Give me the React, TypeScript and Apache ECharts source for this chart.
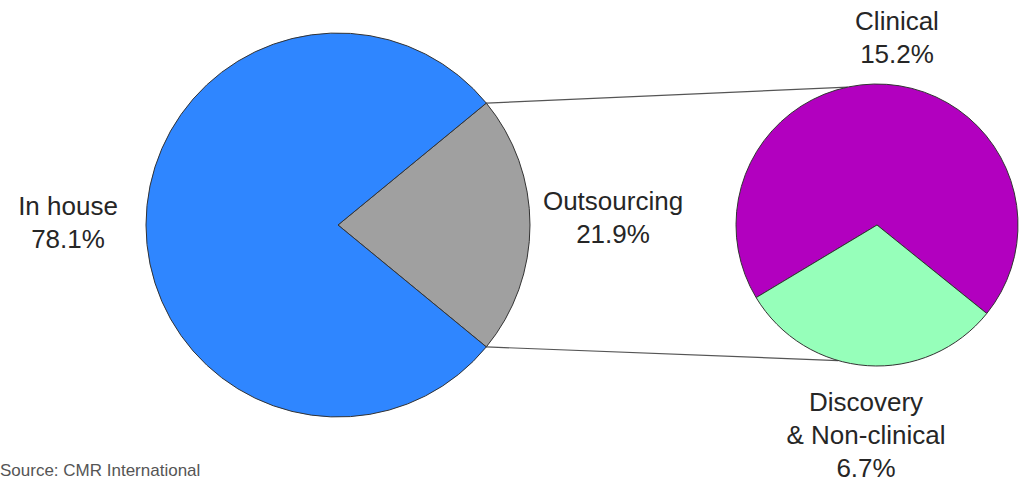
import React, { useEffect, useRef } from "react";
import * as echarts from "echarts";

// ---- data ----
const mainCategories = ["Outsourcing", "In house"];
const mainValues = [21.9, 78.1];
const subCategories = ["Clinical", "Discovery\n& Non-clinical"];
const subValues = [15.2, 6.7];
const sourceNote = "Source: CMR International";

// ---- layout / style ----
const W = 1034;
const H = 493;
const BIG = { cx: 338, cy: 225, r: 192 };
const SMALL = { cx: 877, cy: 225, r: 141 };
const SMALL_START = -149;
const CONNECT_SMALL_TOP = 102; // degrees on small pie
const CONNECT_SMALL_BOTTOM = -106;
const mainColors = ["#A0A0A0", "#2F86FF"];
const subColors = ["#B200BF", "#96FFBA"];
const mainLabelPos = [
  { x: 613, y: 217 },
  { x: 68, y: 222 },
];
const subLabelPos = [
  { x: 897, y: 37 },
  { x: 866, y: 435 },
];
const FONT = "'Liberation Sans', Arial, Helvetica, sans-serif";

function pt(c: { cx: number; cy: number; r: number }, deg: number) {
  const a = (deg * Math.PI) / 180;
  return [c.cx + c.r * Math.cos(a), c.cy - c.r * Math.sin(a)];
}

export default function App() {
  const ref = useRef<HTMLDivElement>(null);
  useEffect(() => {
    document.body.style.margin = "0";
    if (!ref.current) return;
    const chart = echarts.init(ref.current, null, { renderer: "svg" });
    const total = mainValues.reduce((a, b) => a + b, 0);
    const outShare = mainValues[0] / total;
    const bigStart = (outShare * 360) / 2;
    const bigTop = pt(BIG, bigStart);
    const bigBottom = pt(BIG, -bigStart);
    const smallTop = pt(SMALL, CONNECT_SMALL_TOP);
    const smallBottom = pt(SMALL, CONNECT_SMALL_BOTTOM);

    const labelStyle = {
      show: true,
      position: "outside" as const,
      formatter: "{b}\n{c}%",
      fontFamily: FONT,
      fontSize: 26,
      lineHeight: 33,
      color: "#262626",
      align: "center" as const,
      overflow: "none" as const,
      width: 300,
    };

    chart.setOption({
      animation: false,
      backgroundColor: "#fff",
      graphic: [
        {
          type: "line",
          z: -1,
          shape: { x1: bigTop[0], y1: bigTop[1], x2: smallTop[0], y2: smallTop[1] },
          style: { stroke: "#555", lineWidth: 1.2 },
        },
        {
          type: "line",
          z: -1,
          shape: { x1: bigBottom[0], y1: bigBottom[1], x2: smallBottom[0], y2: smallBottom[1] },
          style: { stroke: "#555", lineWidth: 1.2 },
        },
        {
          type: "text",
          left: 0,
          top: 462,
          style: { text: sourceNote, fontFamily: FONT, fontSize: 17, fill: "#555" },
        },
      ],
      series: [
        {
          type: "pie",
          center: [BIG.cx, BIG.cy],
          radius: BIG.r,
          startAngle: bigStart,
          clockwise: true,
          silent: true,
          emphasis: { disabled: true },
          label: labelStyle,
          labelLine: { show: false },
          labelLayout: (p: any) => ({
            x: mainLabelPos[p.dataIndex].x,
            y: mainLabelPos[p.dataIndex].y,
            align: "center",
            verticalAlign: "middle",
          }),
          itemStyle: { borderColor: "#333", borderWidth: 1 },
          data: mainCategories.map((n, i) => ({
            name: n,
            value: mainValues[i],
            itemStyle: { color: mainColors[i] },
          })),
        },
        {
          type: "pie",
          center: [SMALL.cx, SMALL.cy],
          radius: SMALL.r,
          startAngle: SMALL_START,
          clockwise: true,
          silent: true,
          emphasis: { disabled: true },
          label: labelStyle,
          labelLine: { show: false },
          labelLayout: (p: any) => ({
            x: subLabelPos[p.dataIndex].x,
            y: subLabelPos[p.dataIndex].y,
            align: "center",
            verticalAlign: "middle",
          }),
          itemStyle: { borderColor: "#333", borderWidth: 1 },
          data: subCategories.map((n, i) => ({
            name: n,
            value: subValues[i],
            itemStyle: { color: subColors[i] },
          })),
        },
      ],
    });
    return () => chart.dispose();
  }, []);
  return <div ref={ref} style={{ width: W, height: H }} />;
}
